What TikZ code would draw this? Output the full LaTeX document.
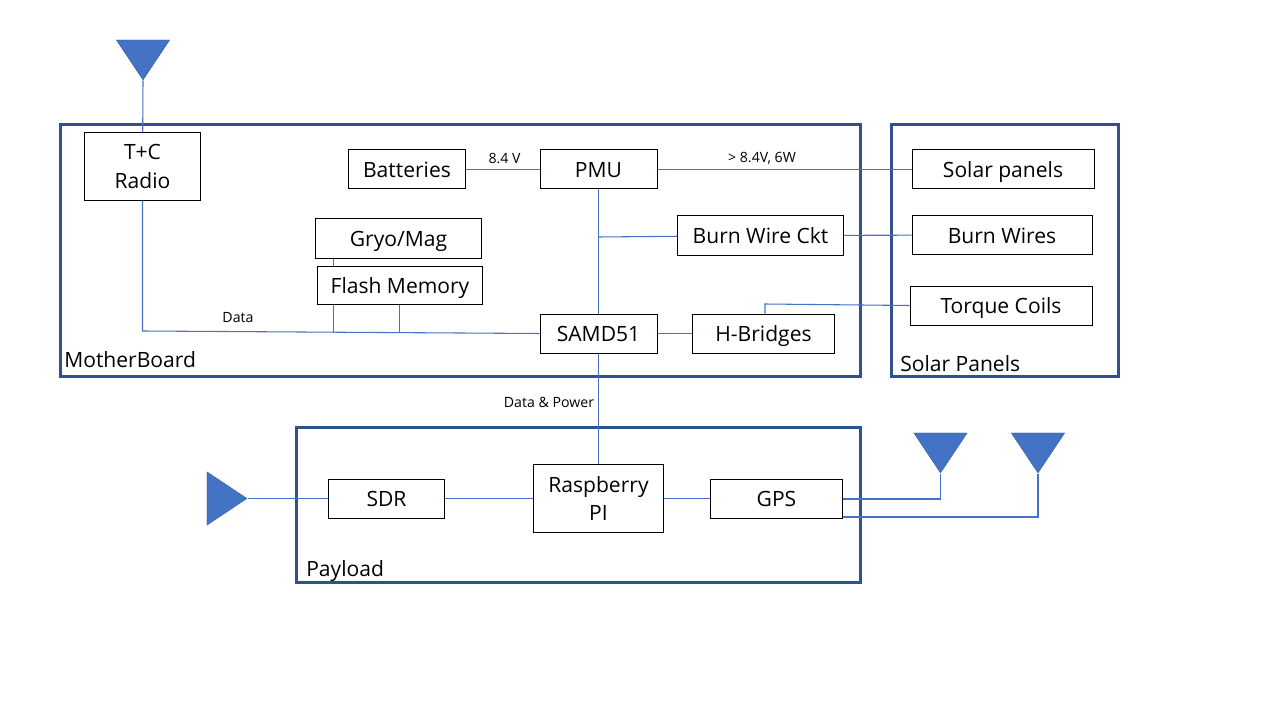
\documentclass[tikz,border=0pt]{standalone}
\usepackage{fontspec}
\setmainfont{Open Sans}
\usetikzlibrary{positioning,shapes.geometric}
\definecolor{frameblue}{RGB}{47,82,143}
\definecolor{wireblue}{RGB}{68,114,196}

\begin{document}
\begin{tikzpicture}[
        x=0.75pt, y=-0.75pt,
        every node/.style={font=\fontsize{15.8}{21.3}\selectfont},
        block/.style={draw=black, fill=white, line width=0.75pt, inner sep=0pt, align=center},
        oneline/.style={block, minimum height=29.25pt, text height=13.2pt, text depth=0.8pt},
        frame/.style={draw=frameblue, line width=2.25pt},
        wire/.style={wireblue, line width=0.8pt, yshift=-0.3pt},
        tag/.style={font=\fontsize{10.6}{12}\selectfont, inner sep=0pt},
        framename/.style={anchor=west, inner sep=0pt},
        antenna/.style={isosceles triangle, isosceles triangle stretches, draw=frameblue!70!wireblue,
                        line width=0.3pt, fill=wireblue, inner sep=0pt, anchor=apex,
                        minimum width=40pt, minimum height=30pt}
    ]
        \useasboundingbox (0,0) rectangle (1280,720);

        % outer boards
        \draw[frame] (60.5,124.5) rectangle (860.5,376.5);
        \draw[frame] (891.5,124.5) rectangle (1118.5,376.5);
        \draw[frame] (296.5,427.5) rectangle (860.5,582);
        \node[framename] (mbname) at (64,360) {MotherBoard};
        \node[framename] (spname) at (900,364) {Solar Panels};
        \node[framename] (plname) at (306,571) {Payload};

        % motherboard
        \node[block, minimum width=87pt, minimum height=51pt] (radio) at (142.5,166.5) {T+C\\Radio};
        \node[oneline, minimum width=88pt] (batt) at (407,169.5) {Batteries};
        \node[oneline, minimum width=87.75pt] (pmu) at (598.5,169.5) {PMU};
        \node[oneline, minimum width=124.5pt] (gyro) at (398.5,238.5) {Gryo/Mag};
        \node[oneline, minimum width=123.5pt, minimum height=28.5pt] (flash) at (400,285.5) {Flash Memory};
        \node[oneline, minimum width=87.75pt] (samd) at (598.5,333.5) {SAMD51};
        \node[oneline, minimum width=107pt] (hbridge) at (763.5,333.5) {H-Bridges};
        \node[oneline, minimum width=124.5pt] (burnckt) at (760.5,235.5) {Burn Wire Ckt};

        % solar panels
        \node[oneline, minimum width=136.5pt] (solar) at (1003,169.5) {Solar panels};
        \node[oneline, minimum width=135pt, minimum height=28.5pt] (burn) at (1002,235) {Burn Wires};
        \node[oneline, minimum width=136.5pt] (torque) at (1001,305.5) {Torque Coils};

        % payload
        \node[oneline, minimum width=87pt] (sdr) at (386.5,498.5) {SDR};
        \node[block, minimum width=98pt, minimum height=51pt] (rpi) at (598.5,498.5) {Raspberry\\PI};
        \node[oneline, minimum width=99pt] (gps) at (776.5,498.5) {GPS};

        % antennas
        \node[antenna, shape border rotate=-90] (anttop) at (143,80.5) {};
        \node[antenna, shape border rotate=-90] (antgpsa) at (940.5,473.5) {};
        \node[antenna, shape border rotate=-90] (antgpsb) at (1038,473.5) {};
        \node[antenna, shape border rotate=0] (antsdr) at (247.5,498.5) {};

        % wires
        \coordinate (buscorner) at (142.5,331);
        \coordinate (busa) at (333.5,332.5);
        \coordinate (busb) at (399.5,333);
        \coordinate (burntap) at (598.5,237);
        \coordinate (torquecorner) at (765,304);
        \coordinate (gpsa) at (842.5,499);
        \coordinate (gpsb) at (842.5,517);

        \draw[wire] (anttop.apex) -- (radio);
        \draw[wire] (radio) -- (buscorner) -- (samd.west);
        \draw[wire] (gyro.south -| busa) -- (flash.north -| busa);
        \draw[wire] (flash.south -| busa) -- (busa);
        \draw[wire] (flash.south -| busb) -- (busb);
        \draw[wire] (batt) -- (pmu);
        \draw[wire] (pmu) -- (solar);
        \draw[wire] (pmu) -- (samd);
        \draw[wire] (burntap) -- (burnckt);
        \draw[wire] (burnckt) -- (burn);
        \draw[wire] (samd) -- (hbridge);
        \draw[wire] (hbridge.north -| torquecorner) -- (torquecorner) -- (torque.west);
        \draw[wire] (samd) -- (rpi);
        \draw[wire] (antsdr.apex) -- (sdr);
        \draw[wire] (sdr) -- (rpi);
        \draw[wire] (rpi) -- (gps);
        \draw[wire] (gpsa) -| (antgpsa.apex);
        \draw[wire] (gpsb) -| (antgpsb.apex);

        % wire labels
        \node[tag] (lbdata) at (238,318) {Data};
        \node[tag] (lbvolt) at (504.5,158) {8.4 V};
        \node[tag] (lbsolar) at (762,158) {> 8.4V, 6W};
        \node[tag] (lbpower) at (549,402) {Data \& Power};
    \end{tikzpicture}
\end{document}
